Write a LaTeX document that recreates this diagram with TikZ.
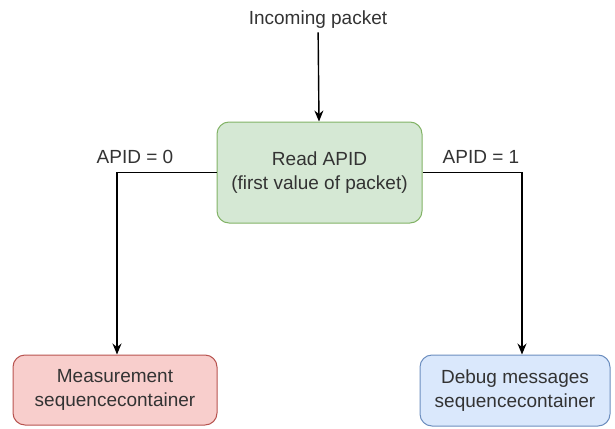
\documentclass[tikz,border=0pt]{standalone}
\usepackage{fontspec}
\setmainfont{Liberation Sans}
\usetikzlibrary{arrows.meta}
\definecolor{rdfill}{HTML}{F8CECC}
\definecolor{rdline}{HTML}{B85450}
\definecolor{grfill}{HTML}{D5E8D4}
\definecolor{grline}{HTML}{82B366}
\definecolor{blfill}{HTML}{DAE8FC}
\definecolor{blline}{HTML}{6C8EBF}
\definecolor{txtgray}{HTML}{333333}

\begin{document}
\begin{tikzpicture}[x=1pt, y=-1pt,
    box/.style={rounded corners=12pt, line width=1pt, align=center, text=txtgray,
      font=\fontsize{19}{24}\selectfont},
    lbl/.style={text=txtgray, font=\fontsize{19}{24}\selectfont},
    flow/.style={-{Stealth[length=11pt, width=9pt]}, line width=1.4pt}]
  \useasboundingbox (0,0) rectangle (615,428);
  % packet in, decision box
  \node[lbl] (inc) at (318,20) {Incoming packet};
  \node[box, draw=grline, fill=grfill, minimum width=205pt, minimum height=101pt] (read)
    at (319.5,172.5) {Read APID\\(first value of packet)};
  % the two containers
  \node[box, draw=rdline, fill=rdfill, minimum width=204pt, minimum height=70pt] (meas)
    at (115,390) {Measurement\\sequencecontainer};
  \node[box, draw=blline, fill=blfill, minimum width=190pt, minimum height=71pt] (dbg)
    at (515,390.5) {Debug messages\\sequencecontainer};
  % connectors
  \draw[flow] (inc) -- (read);
  \draw[flow] (read.west) -| ([xshift=2pt]meas.north);
  \draw[flow] (read.east) -| ([xshift=7pt]dbg.north);
  \node[lbl] (apid0) at (135,157) {APID = 0};
  \node[lbl] (apid1) at (481,157) {APID = 1};
\end{tikzpicture}
\end{document}
